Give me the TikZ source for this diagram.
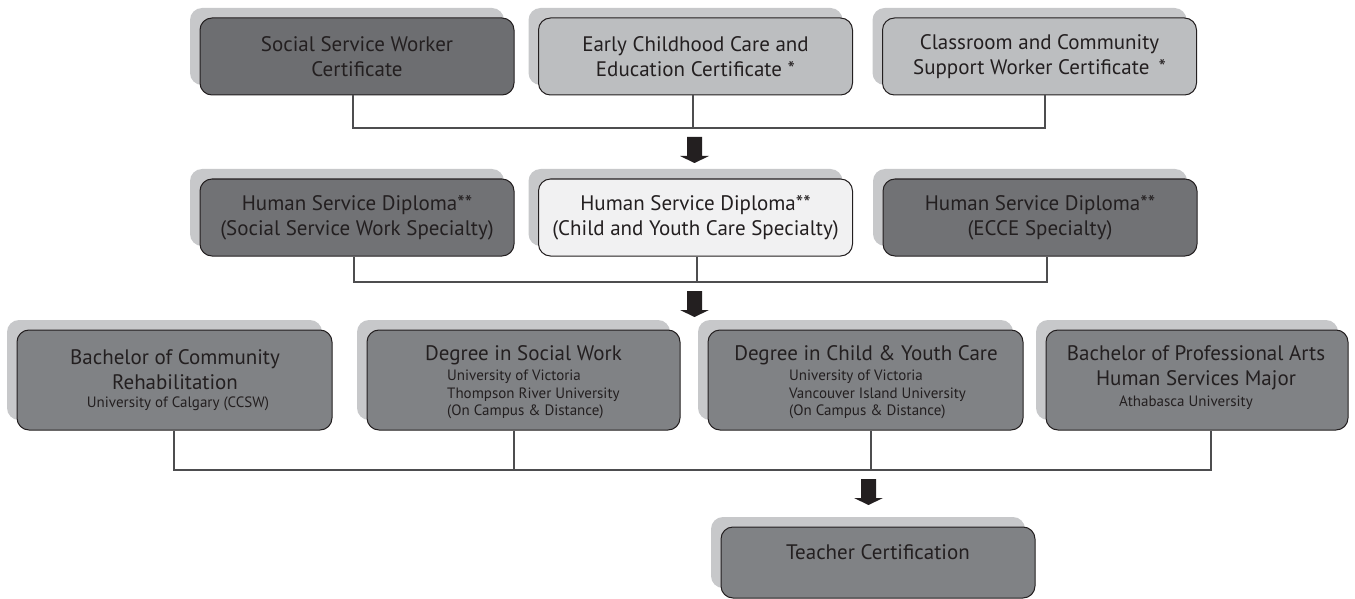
\documentclass[tikz,border=0pt]{standalone}
\usepackage{fontspec}
\setmainfont{PT Sans}
\usetikzlibrary{shadows}
\definecolor{ink}{HTML}{231F20}
\definecolor{shade}{HTML}{C7C8CA}
\definecolor{darkfill}{HTML}{6D6E71}
\definecolor{midfill}{HTML}{717275}
\definecolor{lowfill}{HTML}{808285}
\definecolor{lightfill}{HTML}{BCBEC0}
\definecolor{palefill}{HTML}{F1F1F2}
\definecolor{wire}{HTML}{4D4D4F}
\begin{document}
\begin{tikzpicture}[x=1pt,y=-1pt,
  box/.style={draw=ink, line width=1pt, rounded corners=12pt,
    minimum width=314pt, minimum height=77pt, inner sep=0pt,
    align=center, text=ink, font=\fontsize{21}{25}\selectfont,
    general shadow={fill=shade, shadow xshift=-10pt, shadow yshift=10pt}},
  bigbox/.style={box, minimum height=100pt},
  title/.style={align=center, text=ink, inner sep=0pt, font=\fontsize{21}{25}\selectfont},
  sub/.style={text=ink, inner sep=0pt, font=\fontsize{15}{17.5}\selectfont},
  conn/.style={draw=wire, line width=1.2pt},
  downarrow/.pic={\fill[ink] (-7.5,0) -- (7.5,0) -- (7.5,19) -- (14.5,19) -- (0,26) -- (-14.5,19) -- (-7.5,19) -- cycle;}
]
\useasboundingbox (0,0) rectangle (1355,599);

% row 1
\node[box, fill=darkfill]  (c1) at (357,56.5)   {Social Service Worker\\Certificate};
\node[box, fill=lightfill] (c2) at (695.5,56.5) {Early Childhood Care and\\Education Certificate *};
\node[box, fill=lightfill] (c3) at (1039.5,56.5){Classroom and Community\\Support Worker Certificate\ \,*};

% row 2
\node[box, fill=midfill]  (d1) at (357,217.5)   {Human Service Diploma**\\(Social Service Work Specialty)};
\node[box, fill=palefill] (d2) at (695.5,217.5) {Human Service Diploma**\\(Child and Youth Care Specialty)};
\node[box, fill=midfill]  (d3) at (1040,217.5)  {Human Service Diploma**\\(ECCE Specialty)};

% row 3
\node[bigbox, fill=lowfill, minimum width=315pt] (b1) at (174.5,380) {};
\node[bigbox, fill=lowfill, minimum width=313pt] (b2) at (523.5,380) {};
\node[bigbox, fill=lowfill, minimum width=315pt] (b3) at (865.5,380) {};
\node[bigbox, fill=lowfill, minimum width=302pt] (b4) at (1197,380) {};

\node[title] (b1t) at (175,369.5) {Bachelor of Community\\Rehabilitation};
\node[sub]   (b1s) at (178,404) {University of Calgary (CCSW)};
\node[title] (b2t) at (523.5,355) {Degree in Social Work};
\node[sub, align=left, anchor=west] (b2s) at (447,394.5) {University of Victoria\\Thompson River University\\(On Campus \& Distance)};
\node[title] (b3t) at (866,355) {Degree in Child \& Youth Care};
\node[sub, align=left, anchor=west] (b3s) at (789,394.5) {University of Victoria\\Vancouver Island University\\(On Campus \& Distance)};
\node[title] (b4t) at (1196,367.5) {Bachelor of Professional Arts\\Human Services Major};
\node[sub]   (b4s) at (1186,403) {Athabasca University};

% row 4
\node[box, fill=lowfill, minimum height=71pt] (t1) at (878,562.5) {};
\node[title] (t1t) at (878,552) {Teacher Certification};

% connectors
\coordinate (j1) at (693,128);
\draw[conn] ([xshift=-4pt]c1.south) |- (j1) -| ([xshift=5.5pt]c3.south);
\draw[conn] ([xshift=-2.5pt]c2.south) -- (j1);

\coordinate (j2) at (697,282);
\draw[conn] ([xshift=-3pt]d1.south) |- (j2) -| ([xshift=7pt]d3.south);
\draw[conn] ([xshift=1.5pt]d2.south) -- (j2);

\coordinate (j3) at (871,470);
\draw[conn] ([xshift=-0.5pt]b1.south) |- (j3) -| ([xshift=14pt]b4.south);
\draw[conn] ([xshift=-9.5pt]b2.south) -- ([xshift=-9.5pt]b2.south |- j3);
\draw[conn] ([xshift=5.5pt]b3.south) -- (j3);

% arrows
\pic at (694.5,137) {downarrow};
\pic at (694.5,291) {downarrow};
\pic at (868.5,479) {downarrow};
\end{tikzpicture}
\end{document}
